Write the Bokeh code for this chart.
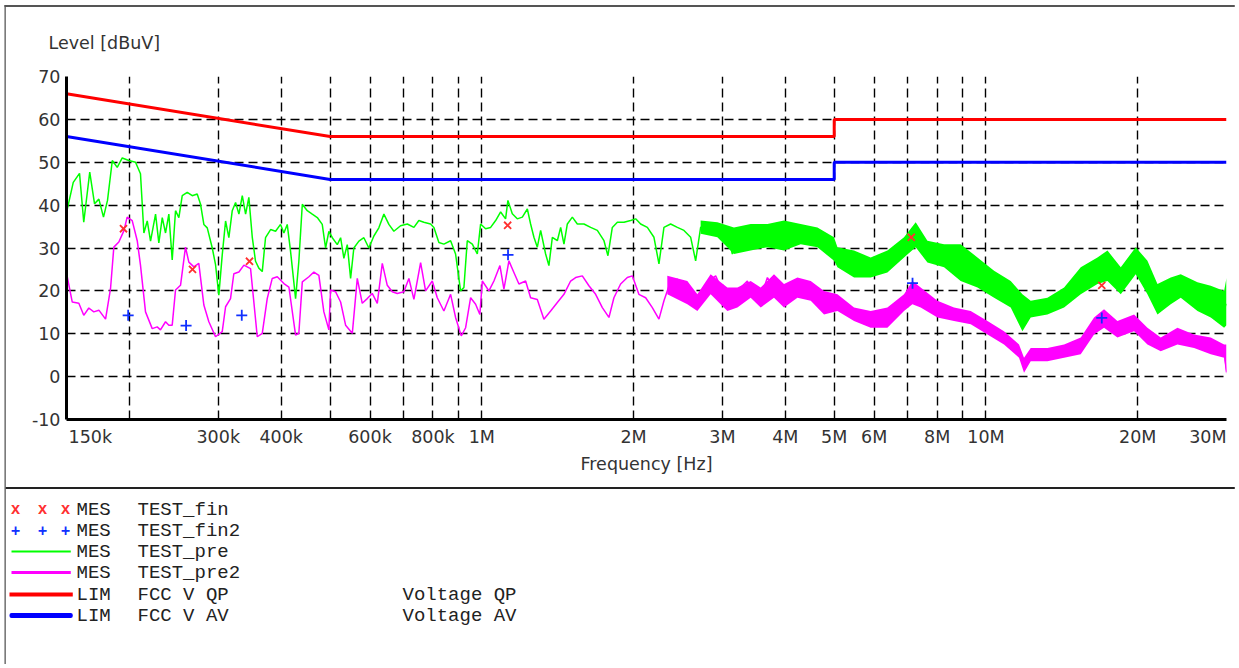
from bokeh.plotting import figure
from bokeh.models import FixedTicker, Label, Range1d
from bokeh.embed import file_html
from bokeh.resources import INLINE

# ---------------- data (frequency in MHz, level in dBuV) ----------------
pre_freq = [0.1505, 0.1547, 0.1592, 0.1623, 0.1668, 0.1705, 0.1739, 0.1776, 0.1809, 0.1849,
            0.1891, 0.1935, 0.1994, 0.2056, 0.2103, 0.2136, 0.2169, 0.2202, 0.2253, 0.2287,
            0.2323, 0.2358, 0.2394, 0.2431, 0.2468, 0.2506, 0.2545, 0.2604, 0.2664, 0.2725,
            0.2767, 0.2809, 0.2853, 0.2919, 0.2963, 0.3008, 0.3055, 0.3102, 0.3149, 0.3198,
            0.3247, 0.3297, 0.3348, 0.3399, 0.3450, 0.3505, 0.3557, 0.3611, 0.3668, 0.3723,
            0.3810, 0.3898, 0.3987, 0.4049, 0.4111, 0.4174, 0.4271, 0.4335, 0.4404, 0.4505,
            0.4609, 0.4716, 0.4824, 0.4898, 0.4972, 0.5051, 0.5167, 0.5246, 0.5325, 0.5408,
            0.5491, 0.5573, 0.5703, 0.5834, 0.5969, 0.6107, 0.6247, 0.6393, 0.6540, 0.6691,
            0.6899, 0.7114, 0.7332, 0.7500, 0.7673, 0.7912, 0.8033, 0.8218, 0.8408, 0.8670,
            0.8869, 0.9074, 0.9213, 0.9356, 0.9574, 0.9795, 0.9943, 1.0172, 1.0409, 1.0650,
            1.0896, 1.1145, 1.1264, 1.1492, 1.1757, 1.2031, 1.2309, 1.2495, 1.2686, 1.2883,
            1.3081, 1.3382, 1.3584, 1.3799, 1.4117, 1.4333, 1.4550, 1.4777, 1.5118, 1.5467,
            1.5941, 1.6437, 1.6947, 1.7468, 1.7787, 1.8147, 1.8570, 1.9140, 1.9728, 2.0188,
            2.0654, 2.1296, 2.1948, 2.2455, 2.2973, 2.3687, 2.4425, 2.5172, 2.5956, 2.6552,
            2.7164, 2.8010, 2.8868, 2.9765, 3.0692, 3.1400, 3.2130, 3.3108, 3.4139, 3.5201,
            3.6279, 3.7407, 3.8571, 3.9753, 4.0991, 4.2266, 4.3560, 4.4915, 4.6313, 4.7730,
            4.9215, 5.0745, 5.4741, 5.9061, 6.3745, 6.8778, 7.2548, 7.6535, 8.2583, 8.9082,
            9.6180, 10.377, 11.197, 11.812, 12.267, 13.240, 14.288, 15.417, 16.638, 17.420,
            18.510, 19.820, 20.907, 21.887, 23.255, 24.341, 26.277, 27.918, 29.672, 30.0]
pre_level = [39.0, 45.3, 47.4, 36.0, 47.7, 40.3, 41.4, 37.2, 41.1, 50.4,
             48.8, 51.0, 50.4, 50.0, 47.3, 33.5, 36.3, 31.6, 37.9, 31.2,
             37.1, 33.5, 37.9, 27.2, 38.7, 37.1, 42.2, 43.0, 42.2, 42.6,
             40.2, 35.5, 34.7, 30.0, 26.1, 19.0, 28.4, 36.3, 32.4, 38.7,
             40.6, 37.9, 42.2, 37.9, 41.8, 32.4, 26.9, 25.3, 24.5, 32.4,
             34.3, 33.9, 35.5, 33.5, 35.5, 29.2, 18.2, 26.9, 40.2, 38.7,
             37.9, 37.1, 35.5, 30.0, 33.9, 32.4, 30.8, 32.4, 27.6, 30.8,
             22.9, 30.0, 31.6, 32.4, 30.0, 32.8, 34.7, 37.9, 35.5, 33.9,
             35.2, 35.6, 34.8, 36.4, 36.0, 35.6, 34.8, 31.3, 30.9, 31.7,
             28.6, 20.0, 20.8, 31.7, 30.9, 28.6, 35.6, 34.5, 34.8, 36.4,
             38.4, 36.8, 41.1, 38.0, 36.8, 37.2, 39.1, 35.6, 32.5, 30.2,
             34.1, 28.6, 25.9, 32.5, 31.7, 34.8, 30.9, 35.6, 37.2, 35.6,
             35.6, 34.8, 34.1, 31.7, 28.2, 34.8, 36.0, 36.0, 36.4, 36.8,
             35.6, 34.8, 32.5, 26.3, 34.8, 35.6, 34.8, 34.1, 32.5, 27.0,
             34.8, 35.6, 34.8, 34.1, 33.3, 28.6, 33.7, 34.1, 34.5, 33.3,
             34.1, 34.8, 33.3, 32.5, 34.1, 34.8, 34.8, 34.1, 32.9, 31.7,
             30.2, 27.8, 26.3, 25.5, 26.9, 30.2, 33.1, 29.2, 28.2, 26.6,
             24.3, 21.6, 19.2, 14.9, 15.8, 16.5, 18.5, 22.4, 24.7, 25.9,
             22.4, 27.1, 23.1, 18.1, 20.0, 21.2, 18.7, 17.5, 15.7, 17.0]

pre_band_freq = [2.7164, 2.9322, 3.1629, 3.4139, 3.6851, 3.9753, 4.2902, 4.6313, 4.9958, 5.0745,
                 5.4741, 5.9061, 6.3745, 6.8778, 7.2548, 7.6535, 8.2583, 8.9082, 9.6180, 10.377,
                 11.197, 11.812, 12.267, 13.240, 14.288, 15.417, 16.638, 17.420, 18.510, 19.820,
                 20.907, 21.887, 23.255, 24.341, 26.277, 27.918, 29.672, 30.0]
pre_band_lo = [33.3, 32.5, 28.6, 29.4, 30.2, 29.4, 30.9, 30.2, 27.0, 25.5,
               23.1, 23.1, 24.3, 27.8, 30.2, 26.6, 25.5, 22.3, 20.8, 18.4,
               16.1, 10.6, 13.8, 14.5, 16.1, 19.2, 21.6, 22.3, 19.2, 23.9,
               19.2, 14.5, 16.9, 18.4, 15.3, 13.8, 11.4, 12.0]
pre_band_hi = [36.4, 36.0, 34.8, 35.6, 35.6, 36.4, 35.6, 34.8, 32.5, 30.2,
               29.4, 27.8, 29.4, 32.5, 36.0, 31.7, 30.9, 30.9, 27.8, 24.7,
               22.3, 19.2, 17.7, 18.4, 20.8, 25.5, 27.8, 29.4, 25.5, 30.2,
               27.0, 21.6, 23.1, 23.9, 22.0, 21.2, 20.0, 23.0]

pre2_freq = [0.1505, 0.1540, 0.1587, 0.1623, 0.1661, 0.1699, 0.1739, 0.1793, 0.1834, 0.1862,
             0.1905, 0.1949, 0.1979, 0.2025, 0.2072, 0.2103, 0.2152, 0.2219, 0.2270, 0.2304,
             0.2358, 0.2394, 0.2431, 0.2468, 0.2525, 0.2583, 0.2623, 0.2684, 0.2745, 0.2809,
             0.2874, 0.2963, 0.3055, 0.3102, 0.3173, 0.3221, 0.3297, 0.3373, 0.3477, 0.3585,
             0.3668, 0.3752, 0.3839, 0.3928, 0.4049, 0.4142, 0.4271, 0.4335, 0.4404, 0.4539,
             0.4643, 0.4750, 0.4860, 0.4972, 0.5011, 0.5127, 0.5246, 0.5367, 0.5534, 0.5661,
             0.5791, 0.5925, 0.6061, 0.6203, 0.6346, 0.6492, 0.6642, 0.6796, 0.7003, 0.7166,
             0.7332, 0.7560, 0.7734, 0.7974, 0.8158, 0.8408, 0.8670, 0.8869, 0.9103, 0.9286,
             0.9500, 0.9719, 0.9910, 1.0021, 1.0328, 1.0567, 1.0861, 1.1061, 1.1316, 1.1577,
             1.1846, 1.2213, 1.2495, 1.2883, 1.3277, 1.3691, 1.4117, 1.4550, 1.5000, 1.5346,
             1.5822, 1.6308, 1.6815, 1.7338, 1.7868, 1.8280, 1.8847, 1.9433, 1.9882, 2.0488,
             2.1132, 2.1786, 2.2455, 2.2973, 2.3687, 2.4425, 2.5172, 2.5956, 2.6552, 2.7375,
             2.8212, 2.9092, 2.9997, 3.0917, 3.1629, 3.2613, 3.3629, 3.4659, 3.5735, 3.6851,
             3.7977, 3.9159, 4.0373, 4.1610, 4.2902, 4.4229, 4.5590, 4.7000, 4.8461, 4.9958,
             5.1515, 5.4741, 5.9061, 6.3745, 6.8778, 7.1465, 7.4211, 8.0129, 8.6415, 9.3272,
             10.070, 10.858, 11.630, 11.898, 12.267, 13.240, 14.288, 15.417, 16.383, 17.147,
             18.229, 19.670, 20.907, 22.218, 23.980, 25.869, 27.918, 29.672, 30.0]
pre2_level = [23.3, 17.4, 17.1, 14.3, 16.0, 15.1, 15.5, 13.4, 20.5, 30.2,
              31.4, 34.0, 37.2, 36.4, 31.7, 26.0, 15.1, 11.2, 11.6, 10.9,
              12.8, 12.0, 12.0, 20.2, 21.3, 30.2, 26.7, 25.6, 26.4, 16.7,
              12.8, 9.3, 10.5, 16.3, 18.2, 24.0, 24.4, 26.0, 25.2, 9.3,
              10.1, 18.2, 22.9, 23.3, 21.7, 20.9, 9.7, 10.1, 22.1, 23.3,
              24.4, 23.6, 15.1, 10.9, 20.2, 19.8, 17.4, 12.0, 10.1, 22.9,
              17.1, 18.2, 19.4, 17.1, 26.4, 21.3, 19.8, 19.4, 19.8, 22.9,
              18.0, 26.6, 20.0, 22.3, 18.4, 15.3, 19.2, 13.8, 9.5, 11.4,
              18.4, 16.9, 14.5, 22.3, 20.0, 22.3, 25.9, 20.4, 27.0, 24.3,
              21.6, 22.3, 18.4, 18.0, 13.4, 15.3, 17.3, 19.2, 22.3, 23.1,
              23.5, 21.2, 19.2, 16.1, 13.8, 18.4, 21.6, 23.1, 23.5, 19.2,
              18.4, 16.1, 13.4, 17.7, 22.3, 22.7, 20.8, 18.4, 16.1, 19.2,
              22.3, 23.5, 20.0, 17.3, 17.7, 20.8, 22.3, 19.2, 18.4, 23.1,
              20.8, 17.7, 20.8, 22.3, 22.3, 21.6, 19.2, 16.9, 16.1, 17.7,
              16.9, 14.6, 13.4, 13.8, 17.3, 19.6, 18.5, 15.8, 14.6, 13.8,
              11.4, 9.1, 6.0, 2.7, 5.2, 5.2, 6.0, 7.2, 11.8, 13.6,
              11.1, 12.6, 9.5, 7.5, 9.5, 8.3, 7.2, 5.9, 1.0]

pre2_band_freq = [2.3328, 2.5563, 2.6760, 2.8434, 3.0692, 3.2130, 3.4139, 3.5735, 3.7977, 3.9753,
                  4.2266, 4.4915, 4.7730, 5.0745, 5.4741, 5.9061, 6.3745, 6.8778, 7.1465, 7.4211,
                  8.0129, 8.6415, 9.3272, 10.070, 10.858, 11.630, 11.898, 12.267, 13.240, 14.288,
                  15.417, 16.383, 17.147, 18.229, 19.670, 20.907, 22.218, 23.980, 25.869, 27.918,
                  29.672, 30.0]
pre2_band_lo = [19.2, 16.9, 15.3, 19.2, 15.3, 16.1, 18.4, 16.1, 18.4, 16.1,
                18.4, 17.7, 14.5, 15.3, 13.0, 11.4, 11.4, 15.3, 16.9, 16.1,
                13.8, 13.0, 12.2, 9.8, 7.5, 4.4, 0.9, 3.6, 3.6, 4.4,
                5.2, 9.8, 11.4, 9.1, 10.6, 7.5, 5.9, 7.5, 6.7, 5.2,
                4.4, 0.5]
pre2_band_hi = [23.5, 22.3, 19.2, 23.9, 20.8, 20.8, 22.3, 20.8, 23.9, 21.6,
                23.1, 22.3, 20.0, 19.2, 16.1, 15.3, 16.1, 19.2, 22.3, 20.8,
                17.7, 16.1, 15.3, 13.0, 10.6, 7.5, 4.4, 6.7, 6.7, 7.5,
                9.1, 13.8, 15.7, 13.0, 14.5, 11.4, 9.1, 11.4, 9.8, 9.1,
                7.5, 7.5]

fin_freq = [0.1946, 0.2667, 0.3460, 1.125, 7.11, 16.97]      # QP finals (x)
fin_level = [34.5, 25.0, 26.9, 35.3, 32.5, 21.3]
fin2_freq = [0.1988, 0.2590, 0.3340, 1.127, 7.15, 16.97]     # AV finals (+)
fin2_level = [14.3, 11.9, 14.3, 28.4, 21.8, 13.7]

limit_freq = [0.15, 0.5, 5.0, 5.0, 30.0]
qp_limit = [66, 56, 56, 60, 60]
av_limit = [56, 46, 46, 50, 50]

x_tick_values = [0.3, 0.4, 0.6, 0.8, 1, 2, 3, 4, 5, 6, 8, 10, 20]
x_tick_labels = ["300k", "400k", "600k", "800k", "1M", "2M", "3M", "4M", "5M", "6M", "8M", "10M", "20M"]
x_grid_values = [0.2, 0.3, 0.4, 0.5, 0.6, 0.7, 0.8, 0.9, 1, 2, 3, 4, 5, 6, 7, 8, 9, 10, 20, 30]
y_tick_values = [-10, 0, 10, 20, 30, 40, 50, 60, 70]
y_tick_labels = ["-10", "0", "10", "20", "30", "40", "50", "60", "70"]

legend_kind = ["MES", "MES", "MES", "MES", "LIM", "LIM"]
legend_name = ["TEST_fin", "TEST_fin2", "TEST_pre", "TEST_pre2", "FCC V QP", "FCC V AV"]
legend_desc = ["", "", "", "", "Voltage QP", "Voltage AV"]

# ---------------- styling ----------------
SANS = "DejaVu Sans"
MONO = "Liberation Mono"
FS = "17.5px"
TXT = "#333333"
GREEN = "#00ff00"
MAGENTA = "#ff00ff"
RED = "#ff0000"
BLUE = "#0000ff"
W, H = 1235, 664

p = figure(frame_width=1160, frame_height=343, x_axis_type="log",
           x_range=Range1d(0.15, 30), y_range=Range1d(-10, 70),
           min_border_left=66, min_border_right=W - 66 - 1160, min_border_top=76,
           min_border_bottom=H - 76 - 343,
           output_backend="svg", toolbar_location=None)
p.outline_line_color = None
p.background_fill_color = "white"
p.border_fill_color = "white"

p.xgrid.ticker = FixedTicker(ticks=x_grid_values)
p.ygrid.ticker = FixedTicker(ticks=y_tick_values)
for g in (p.xgrid, p.ygrid):
    g.grid_line_color = "black"
    g.grid_line_dash = "9 5"
    g.grid_line_width = 1.4

for ax in (p.xaxis[0], p.yaxis[0]):
    ax.axis_line_width = 3
    ax.axis_line_color = "black"
    ax.major_tick_line_color = None
    ax.minor_tick_line_color = None
    ax.major_tick_out = 0
    ax.major_tick_in = 0
    ax.major_label_text_font = SANS
    ax.major_label_text_font_size = FS
    ax.major_label_text_color = TXT

p.xaxis.ticker = FixedTicker(ticks=x_tick_values, minor_ticks=[])
p.xaxis.major_label_overrides = dict(zip(x_tick_values, x_tick_labels))
p.xaxis.major_label_standoff = 7
p.xaxis.axis_label = "Frequency [Hz]"
p.xaxis.axis_label_text_font = SANS
p.xaxis.axis_label_text_font_style = "normal"
p.xaxis.axis_label_text_font_size = FS
p.xaxis.axis_label_text_color = TXT
p.xaxis.axis_label_standoff = 4
p.yaxis.ticker = FixedTicker(ticks=y_tick_values, minor_ticks=[])
p.yaxis.major_label_overrides = dict(zip(y_tick_values, y_tick_labels))
p.yaxis.major_label_standoff = 6

# traces
p.varea(x=pre_band_freq, y1=pre_band_lo, y2=pre_band_hi, fill_color=GREEN)
p.line(pre_freq, pre_level, line_color=GREEN, line_width=1.5)
p.varea(x=pre2_band_freq, y1=pre2_band_lo, y2=pre2_band_hi, fill_color=MAGENTA)
p.line(pre2_freq, pre2_level, line_color=MAGENTA, line_width=1.5)
p.line(limit_freq, qp_limit, line_color=RED, line_width=3)
p.line(limit_freq, av_limit, line_color=BLUE, line_width=3)
p.scatter(fin_freq, fin_level, marker="x", size=10, line_color="#ff3030", line_width=1.8)
p.scatter(fin2_freq, fin2_level, marker="cross", size=11, line_color="#1030ff", line_width=1.8)


def canvas_label(x, y, text, font=SANS, size=FS, color=TXT, align="left", style="normal"):
    p.add_layout(Label(x=x, y=y, x_units="canvas", y_units="canvas", text=text,
                       text_font=font, text_font_size=size, text_color=color,
                       text_font_style=style, text_align=align, text_baseline="middle"),
                 "below")


def canvas_rect(left, top, width, height, fill, radius=0, side="below"):
    # an empty, tiny label used as a plain filled rectangle in canvas pixels
    p.add_layout(Label(x=left, y=top, x_units="canvas", y_units="canvas", text=" ",
                       text_font_size="1px", text_align="left", text_baseline="top",
                       padding=dict(left=0, right=int(width), top=0, bottom=int(height)),
                       background_fill_color=fill, background_fill_alpha=1,
                       border_line_color=None, border_radius=radius),
                 side)


# edge tick labels and y title
canvas_label(68, 436.5, "150k")
canvas_label(1226, 436.5, "30M", align="right")
canvas_label(48, 42, "Level [dBuV]")

# outer frame (left and top edges only) & divider
canvas_rect(4, 4.5, 1, H - 6, "#555555", side="left")
canvas_rect(4, 4.5, W - 5, 1, "#555555")
canvas_rect(5, 486.5, W - 6, 1, "#222222")

# legend
rows_y = [509, 530, 551, 572, 594, 615]
for sym, col, yy in (("x", "#ff3030", rows_y[0]), ("+", "#1030ff", rows_y[1])):
    for xx in (15, 42, 65):
        canvas_label(xx, yy, sym, font=MONO, size="16px", color=col, align="center", style="bold")
for (l, r, th, col, yy, rad) in ((11, 70, 1, GREEN, rows_y[2], 0), (11, 70, 2, MAGENTA, rows_y[3], 0),
                                 (9, 72, 3, RED, rows_y[4], 0), (9, 72, 4, BLUE, rows_y[5], 2)):
    canvas_rect(l, yy - (th + 1) / 2, r - l, th, col, radius=rad)
for i, yy in enumerate(rows_y):
    for xx, txt in ((76, legend_kind[i]), (137, legend_name[i]), (402, legend_desc[i])):
        if txt:
            canvas_label(xx, yy, txt, font=MONO, size="19px", color="#222222")

open("out.html", "w").write(file_html(p, INLINE))
